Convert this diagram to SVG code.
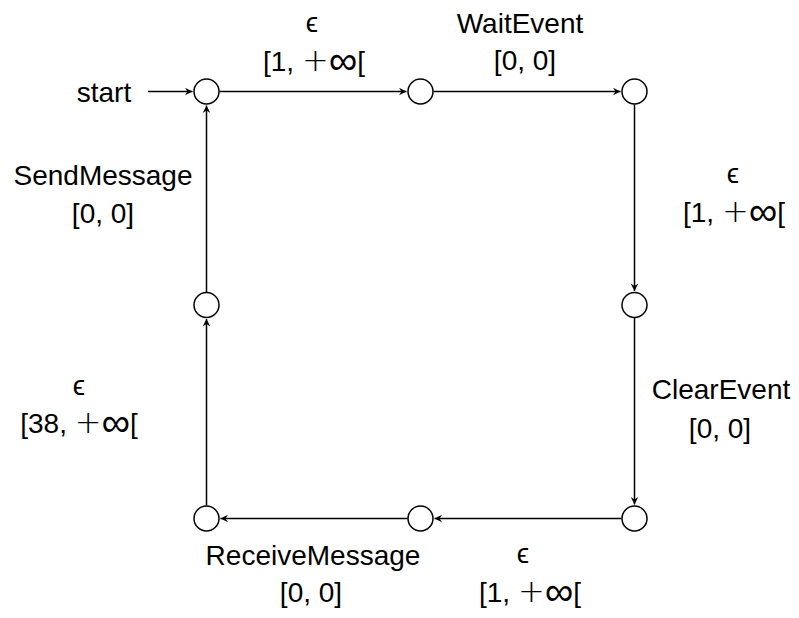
<svg xmlns="http://www.w3.org/2000/svg" width="799" height="618" viewBox="0 0 799 618">
<style>
.n{fill:#fff;stroke:#000;stroke-width:1.5}
.e{fill:none;stroke:#000;stroke-width:1.5}
text{font-family:"Liberation Sans",Arial,sans-serif;font-size:28px;fill:#000;text-anchor:middle}
.m{font-family:"DejaVu Sans",sans-serif;font-size:32px;font-weight:200}
.i{font-family:"Liberation Sans",Arial,sans-serif;font-size:40px}
</style>
<defs>
<marker id="a" viewBox="-8 -5 9 10" refX="0" refY="0" markerWidth="9" markerHeight="10" markerUnits="userSpaceOnUse" orient="auto">
<path d="M0,0 L-7.5,-3.8 L-5,0 L-7.5,3.8 Z" fill="#000"/>
</marker>
</defs>
<g id="connectors">
<path class="e" d="M148,91.5 H192.5" marker-end="url(#a)"/>
<path class="e" d="M219.5,91.5 H406.5" marker-end="url(#a)"/>
<path class="e" d="M433.5,91.5 H620.5" marker-end="url(#a)"/>
<path class="e" d="M634.5,104.5 V291" marker-end="url(#a)"/>
<path class="e" d="M634.5,318 V504.5" marker-end="url(#a)"/>
<path class="e" d="M621.5,518.5 H434.5" marker-end="url(#a)"/>
<path class="e" d="M407.5,518.5 H220.5" marker-end="url(#a)"/>
<path class="e" d="M206.5,505.5 V319" marker-end="url(#a)"/>
<path class="e" d="M206.5,292 V105.5" marker-end="url(#a)"/>
</g>
<g id="n0"><circle class="n" cx="206.5" cy="91.5" r="12.5"/></g>
<g id="n1"><circle class="n" cx="420.5" cy="91.5" r="12.5"/></g>
<g id="n2"><circle class="n" cx="634.5" cy="91.5" r="12.5"/></g>
<g id="n3"><circle class="n" cx="634.5" cy="305" r="12.5"/></g>
<g id="n4"><circle class="n" cx="634.5" cy="518.5" r="12.5"/></g>
<g id="n5"><circle class="n" cx="420.5" cy="518.5" r="12.5"/></g>
<g id="n6"><circle class="n" cx="206.5" cy="518.5" r="12.5"/></g>
<g id="n7"><circle class="n" cx="206.5" cy="305" r="12.5"/></g>
<g id="labels">
<text x="104" y="101.5">start</text>
<text x="312" y="32">ϵ</text>
<text x="314" y="71">[1, <tspan class="m">+</tspan><tspan class="i" dy="3">∞</tspan><tspan dy="-3">[</tspan></text>
<text x="520" y="33">WaitEvent</text>
<text x="525" y="70">[0, 0]</text>
<text x="733" y="183">ϵ</text>
<text x="734" y="222">[1, <tspan class="m">+</tspan><tspan class="i" dy="3">∞</tspan><tspan dy="-3">[</tspan></text>
<text x="721" y="399">ClearEvent</text>
<text x="720" y="438">[0, 0]</text>
<text x="313" y="565">ReceiveMessage</text>
<text x="311" y="602">[0, 0]</text>
<text x="523" y="563">ϵ</text>
<text x="530" y="602">[1, <tspan class="m">+</tspan><tspan class="i" dy="3">∞</tspan><tspan dy="-3">[</tspan></text>
<text x="103" y="185">SendMessage</text>
<text x="103" y="223">[0, 0]</text>
<text x="79" y="395">ϵ</text>
<text x="79" y="433">[38, <tspan class="m">+</tspan><tspan class="i" dy="3">∞</tspan><tspan dy="-3">[</tspan></text>
</g>
</svg>
